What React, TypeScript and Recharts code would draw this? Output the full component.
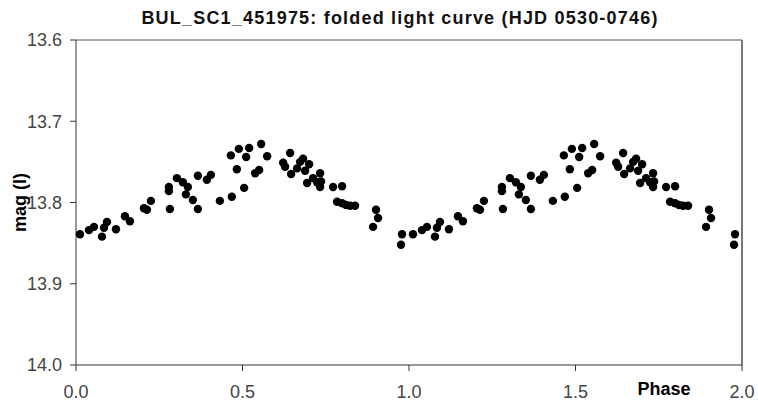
import { ReferenceLine, Scatter, ScatterChart, XAxis, YAxis } from 'recharts';

// phase / magnitude (I) pairs, one cycle
const PHASE = [
  0.012, 0.039, 0.054, 0.078, 0.084, 0.093, 0.12, 0.147, 0.162, 0.204, 0.213, 0.225,
  0.279, 0.279, 0.282, 0.303, 0.321, 0.336, 0.33, 0.351, 0.366, 0.366, 0.393, 0.405,
  0.432, 0.468, 0.465, 0.489, 0.483, 0.505, 0.511, 0.52, 0.538, 0.55, 0.556, 0.574,
  0.622, 0.628, 0.643, 0.646, 0.664, 0.673, 0.682, 0.688, 0.7, 0.694, 0.712, 0.724,
  0.733, 0.736, 0.733, 0.772, 0.799, 0.784, 0.799, 0.811, 0.823, 0.838, 0.892, 0.901,
  0.907, 0.979, 0.976,
];
const MAG = [
  13.839, 13.834, 13.83, 13.842, 13.831, 13.824, 13.833, 13.817, 13.823, 13.807, 13.809, 13.798,
  13.781, 13.786, 13.808, 13.77, 13.775, 13.781, 13.79, 13.797, 13.808, 13.767, 13.772, 13.766,
  13.798, 13.793, 13.742, 13.734, 13.759, 13.782, 13.744, 13.733, 13.764, 13.76, 13.728, 13.743,
  13.751, 13.756, 13.739, 13.765, 13.758, 13.75, 13.746, 13.761, 13.753, 13.776, 13.77, 13.775,
  13.764, 13.774, 13.781, 13.781, 13.78, 13.799, 13.801, 13.803, 13.804, 13.804, 13.83, 13.809,
  13.819, 13.839, 13.852,
];
const X_TICKS = [0, 0.5, 1, 1.5, 2];
const Y_TICKS = [13.6, 13.7, 13.8, 13.9, 14.0];
const TITLE = 'BUL_SC1_451975: folded light curve (HJD 0530-0746)';

const FONT = '"Liberation Sans", Arial, sans-serif';

// the curve is shown twice: phase and phase + 1
const points = [
  ...PHASE.map((p, i) => ({ phase: p, mag: MAG[i] })),
  ...PHASE.map((p, i) => ({ phase: p + 1, mag: MAG[i] })),
];

const Dot = (props: any) => <circle cx={props.cx} cy={props.cy} r={4.2} fill="#000" />;

export default function App() {
  return (
    <div style={{ position: 'absolute', left: 0, top: 0, width: 758, height: 407, background: '#fff', fontFamily: FONT }}>
      <div
        style={{
          position: 'absolute',
          left: 40,
          width: 720,
          top: 8,
          lineHeight: '20px',
          textAlign: 'center',
          fontSize: 18,
          letterSpacing: 1.2,
          fontWeight: 'bold',
          color: '#111',
        }}
      >
        {TITLE}
      </div>
      <ScatterChart width={758} height={407} margin={{ top: 40, right: 16, bottom: 0, left: 0 }}>
        <XAxis
          dataKey="phase"
          type="number"
          domain={[0, 2]}
          ticks={X_TICKS}
          tickFormatter={(v: number) => v.toFixed(1)}
          height={42}
          stroke="#333"
          tickSize={6}
          tickMargin={14}
          tick={{ fill: '#444', fontSize: 18, fontFamily: FONT }}
          label={{ value: 'Phase', position: 'center', dx: 255, dy: 3, fill: '#000', fontSize: 18, fontWeight: 'bold', fontFamily: FONT }}
        />
        <YAxis
          dataKey="mag"
          type="number"
          reversed
          domain={[13.6, 14.0]}
          ticks={Y_TICKS}
          tickFormatter={(v: number) => v.toFixed(1)}
          width={76}
          stroke="#333"
          tickSize={6}
          tickMargin={8}
          tick={{ fill: '#444', fontSize: 18, fontFamily: FONT }}
          label={{ value: 'mag (I)', position: 'center', angle: -90, dx: -18, fill: '#000', fontSize: 18, fontWeight: 'bold', fontFamily: FONT }}
        />
        {/* frame: top and right edges of the plot area */}
        <ReferenceLine y={13.6} stroke="#555" strokeWidth={1} />
        <ReferenceLine x={2} stroke="#777" strokeWidth={2} />
        <Scatter data={points} shape={Dot} isAnimationActive={false} />
      </ScatterChart>
    </div>
  );
}
